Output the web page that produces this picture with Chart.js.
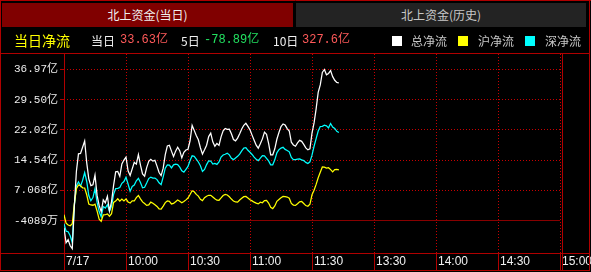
<!DOCTYPE html>
<html><head><meta charset="utf-8">
<script src="https://cdn.jsdelivr.net/npm/chart.js@4.4.1/dist/chart.umd.min.js"></script>
<style>
html,body{margin:0;padding:0;background:#000;width:591px;height:272px;overflow:hidden;}
#wrap{position:relative;width:591px;height:272px;}
canvas{position:absolute;left:0;top:0;}
.tab{position:absolute;top:3px;height:24px;line-height:24px;text-align:center;font-family:"Noto Sans CJK SC",sans-serif;font-size:12px;}
.r{position:absolute;top:28px;height:25px;line-height:25px;white-space:nowrap;font-family:"Noto Sans CJK SC",sans-serif;font-size:12px;}
.num{font-family:"Liberation Mono","Noto Sans CJK SC",monospace;font-size:12px;}
.sq{position:absolute;top:36px;width:10px;height:10px;}
</style></head>
<body><div id="wrap">
<canvas id="c" width="591" height="272"></canvas>
<div class="tab" style="left:2px;width:291px;background:#800000;color:#f0f0f0">北上资金(当日)</div>
<div class="tab" style="left:296px;width:290px;background:#232323;color:#c8c8c8">北上资金(历史)</div>
<div class="r" style="left:14px;font-size:14px;color:#ffff00">当日净流</div>
<div class="r" style="left:91px;color:#f0f0f0">当日</div>
<div class="r num" style="left:120px;color:#ff5a5a">33.63亿</div>
<div class="r" style="left:181px;color:#f0f0f0">5日</div>
<div class="r num" style="left:204px;color:#22e060">-78.89亿</div>
<div class="r" style="left:273px;color:#f0f0f0">10日</div>
<div class="r num" style="left:302px;color:#ff5a5a">327.6亿</div>
<div class="sq" style="left:392px;background:#ffffff"></div>
<div class="r" style="left:411px;color:#c8c8c8">总净流</div>
<div class="sq" style="left:458px;background:#ffff00"></div>
<div class="r" style="left:478px;color:#c8c8c8">沪净流</div>
<div class="sq" style="left:525px;background:#00ffff"></div>
<div class="r" style="left:545px;color:#c8c8c8">深净流</div>
</div>
<script>
// minutes since 9:30 (index = minute), values in 亿元
const totalFlow = [-2.14,-5.84,-5.10,-6.60,-7.30,3.14,11.80,16.12,16.24,17.75,
19.28,13.90,9.95,8.25,8.47,10.87,5.91,3.37,1.81,4.77,
4.03,5.64,2.01,4.33,8.33,11.68,11.78,10.57,13.65,14.59,
15.31,11.93,10.77,12.42,14.02,13.58,15.92,13.33,11.16,10.60,
12.72,14.27,14.76,14.32,14.52,13.09,11.51,10.74,12.57,15.92,
18.05,18.24,16.79,15.46,16.79,17.77,16.91,15.13,16.52,17.06,
17.26,19.35,23.15,21.92,20.64,19.58,17.63,16.05,17.11,18.24,
20.39,21.23,19.08,18.00,18.69,18.22,20.32,21.80,22.39,22.17,
22.22,21.06,19.67,19.33,20.00,21.06,22.24,23.18,23.67,22.91,
22.04,20.74,19.50,18.27,17.53,18.59,19.82,21.48,20.93,18.71,
15.87,15.87,17.36,19.72,21.40,22.88,23.50,23.23,22.36,21.77,
19.01,18.32,18.00,18.84,19.45,19.21,18.47,17.60,17.11,17.36,
21.23,23.77,27.22,31.32,33.15,36.25,36.97,35.66,35.98,36.70,
35.19,34.30,33.79,33.63];
const shFlow = [1.07,-1.03,-1.47,-1.64,-1.15,3.71,7.49,8.42,8.23,7.73,
7.68,6.01,3.71,3.49,3.42,3.69,2.01,-0.01,-0.53,1.02,
1.07,1.27,0.70,1.32,4.13,4.45,5.02,4.43,4.95,4.48,
4.99,4.23,3.96,4.50,4.48,5.32,5.83,4.99,4.25,3.83,
3.39,3.49,4.20,3.91,3.54,3.12,2.50,2.45,3.22,4.08,
4.48,4.40,3.74,3.86,4.28,4.70,4.43,4.01,4.33,4.75,
5.19,6.06,6.99,6.75,6.10,5.69,4.90,4.57,5.29,5.66,
5.88,5.86,5.44,5.02,4.67,4.65,5.22,5.83,6.10,5.96,
5.51,4.95,4.45,4.23,4.20,4.70,5.14,5.54,5.59,5.22,
4.77,4.50,4.18,3.93,3.76,4.16,4.03,4.57,4.62,3.96,
2.92,2.60,3.24,4.38,4.82,5.27,5.59,5.56,5.44,5.14,
3.86,3.46,3.37,3.79,4.28,4.35,3.86,3.34,3.17,3.66,
6.01,7.12,8.57,10.22,11.56,12.89,12.82,12.59,12.69,12.22,
11.68,12.22,12.30,12.17];
const szFlow = [-1.15,-3.00,-3.12,-4.11,-5.80,3.37,8.18,9.21,8.15,9.56,
11.51,9.29,5.81,4.53,5.32,7.49,4.18,1.86,0.58,3.09,
2.72,3.54,1.94,3.14,6.10,7.54,7.59,7.78,8.84,9.26,
10.32,8.67,6.89,8.05,8.40,9.46,10.08,9.02,7.73,7.86,
8.89,10.00,10.37,10.13,10.13,9.76,8.97,8.52,10.45,12.59,
13.41,13.36,12.67,13.41,13.56,13.48,12.82,11.93,11.61,12.30,
13.01,14.47,15.63,15.50,14.84,14.10,13.16,11.78,12.25,13.46,
14.39,14.35,13.61,13.75,13.51,14.10,15.33,15.83,16.02,16.29,
15.87,15.04,14.69,15.09,15.50,16.05,16.86,17.55,17.63,16.99,
16.52,15.97,15.31,14.76,14.44,15.06,15.68,15.63,14.99,14.37,
13.41,13.41,14.64,16.37,17.16,17.55,17.73,17.21,16.96,16.62,
15.21,14.69,14.72,14.81,14.89,14.64,14.44,14.00,13.73,14.15,
15.80,18.00,19.90,21.75,22.88,22.91,23.20,23.05,22.54,23.62,
22.73,22.39,21.67,21.38];
const seriesNames = ['总净流','沪净流','深净流'];
const seriesColors = ['#ffffff','#ffff00','#00ffff'];
const xTickMinutes = [0,30,60,90,120,150,180,210,240];
const xTickLabels = ['7/17','10:00','10:30','11:00','11:30','13:30','14:00','14:30','15:00'];
const yTickValues = [-0.4089,7.068,14.54,22.02,29.50,36.97];
const yTickLabels = ['-4089万','7.068亿','14.54亿','22.02亿','29.50亿','36.97亿'];

const toPts = arr => arr.map((v,i)=>({x:i,y:v}));
const frame = {
  id:'frame',
  beforeDatasetsDraw(chart){
    const c = chart.ctx, a = chart.chartArea;
    c.save();
    c.strokeStyle = '#b00000'; c.lineWidth = 1; c.setLineDash([]);
    const H = (y,x1,x2)=>{c.beginPath();c.moveTo(x1,y+0.5);c.lineTo(x2,y+0.5);c.stroke();};
    const V = (x,y1,y2)=>{c.beginPath();c.moveTo(x+0.5,y1);c.lineTo(x+0.5,y2);c.stroke();};
    H(0,0,591); V(0,0,271); V(589,0,271);
    H(a.top-1,0,590); H(a.bottom,0,590); H(270,0,590);
    V(a.left,a.top-1,271); V(a.right+2,a.top-1,271);
    c.restore();
  }
};
new Chart(document.getElementById('c'), {
  type:'line',
  data:{datasets:[totalFlow,shFlow,szFlow].map((d,i)=>({
    label:seriesNames[i], data:toPts(d), borderColor:seriesColors[i],
    borderWidth:1.25, pointRadius:0, tension:0, fill:false
  }))},
  options:{
    responsive:false, animation:false, devicePixelRatio:1,
    layout:{padding:{left:0,top:54,right:31,bottom:0}},
    plugins:{legend:{display:false}, tooltip:{enabled:false}},
    scales:{
      x:{type:'linear', min:0, max:240,
        afterBuildTicks:s=>{s.ticks = xTickMinutes.map(v=>({value:v}));},
        afterFit:s=>{s.height = 19;},
        ticks:{align:'start', labelOffset:2, padding:-16, color:'#f0f0f0', autoSkip:false, maxRotation:0,
          font:{family:'"Liberation Sans", Arial, sans-serif', size:12},
          callback:v=>xTickLabels[xTickMinutes.indexOf(v)]},
        grid:{color:'#c80000', lineWidth:1, drawTicks:true, tickLength:17, tickColor:'#b00000', tickBorderDash:[], tickWidth:1},
        border:{display:false, dash:[1,2]}
      },
      y:{type:'linear', min:-8.38, max:40.79,
        afterBuildTicks:s=>{s.ticks = yTickValues.map(v=>({value:v}));},
        afterFit:s=>{s.width = 64;},
        ticks:{color:'#ececec', padding:2, autoSkip:false,
          font:{family:'"Liberation Mono", "Noto Sans CJK SC", monospace', size:11},
          callback:v=>yTickLabels[yTickValues.indexOf(v)]},
        grid:{color:c=>c.index===0?'#880000':'#c80000', lineWidth:1, tickLength:4, tickColor:'#b00000', tickBorderDash:[], tickWidth:1},
        border:{display:false, dash:c=>c.index===0?[]:[1,2]}
      }
    }
  },
  plugins:[frame]
});
</script>
</body></html>
